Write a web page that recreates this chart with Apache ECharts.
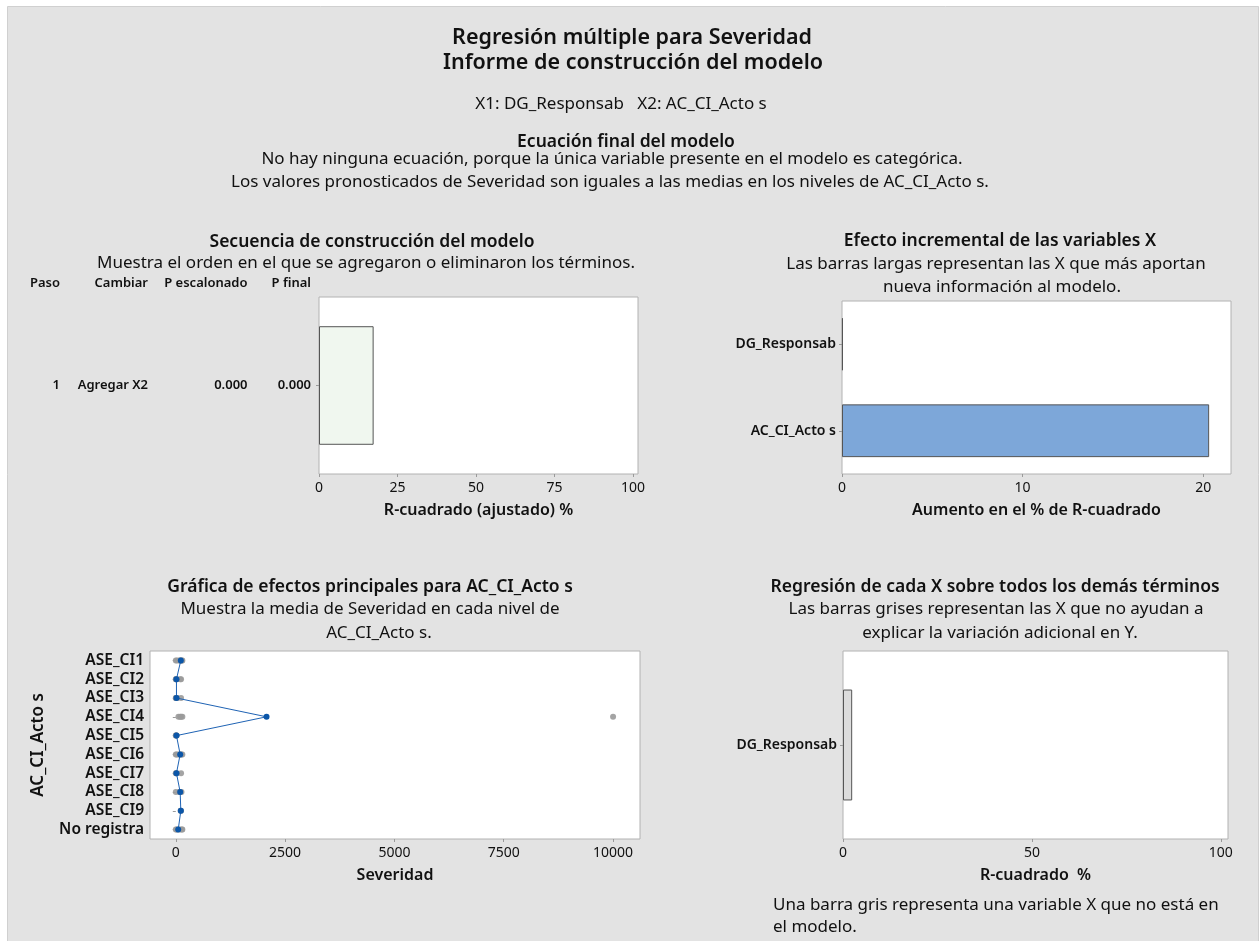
<!DOCTYPE html>
<html>
<head>
<meta charset="utf-8">
<script src="https://cdn.jsdelivr.net/npm/echarts@6/dist/echarts.min.js"></script>
<style>
html,body{margin:0;padding:0;background:#fff;}
#c{width:1260px;height:941px;}
</style>
</head>
<body>
<div id="c"></div>
<script>
// ---- Data ----
// Panel 1: model building sequence
var seqHeaders = ['Paso', 'Cambiar', 'P escalonado', 'P final'];
var seqStep = ['1'];
var seqChange = ['Agregar X2'];
var seqPStep = ['0.000'];
var seqPFinal = ['0.000'];
var seqR2Adj = [17.4];
var seqTicks = [0, 25, 50, 75, 100];

// Panel 2: incremental effect of X variables
var incCats = ['DG_Responsab', 'AC_CI_Acto s'];
var incValues = [0.05, 20.33];
var incTicks = [0, 10, 20];

// Panel 3: main effects for AC_CI_Acto s
var levels = ['ASE_CI1', 'ASE_CI2', 'ASE_CI3', 'ASE_CI4', 'ASE_CI5', 'ASE_CI6', 'ASE_CI7', 'ASE_CI8', 'ASE_CI9', 'No registra'];
var levelMeans = [115, 15, 15, 2075, 15, 100, 15, 100, 115, 55];
var obsCI1 = [0, 30, 80, 120, 150, 140, 100];
var obsCI2 = [0, 5, 10, 20, 100, 120];
var obsCI3 = [0, 5, 10, 30, 120];
var obsCI4 = [10000, 60, 100, 120, 150];
var obsCI5 = [0, 5, 10, 20];
var obsCI6 = [0, 20, 60, 100, 130, 150];
var obsCI7 = [0, 10, 20, 120];
var obsCI8 = [0, 80, 100, 130];
var obsCI9 = [110, 120];
var obsNoReg = [0, 20, 50, 100, 150, 140];
var sevTicks = [0, 2500, 5000, 7500, 10000];

// Panel 4: regression of each X on all other terms
var regCats = ['DG_Responsab'];
var regValues = [2.43];
var regTicks = [0, 50, 100];

// ---- Build ----
var FONT = '"Noto Sans", "Open Sans", sans-serif';
var obsAll = [obsCI1, obsCI2, obsCI3, obsCI4, obsCI5, obsCI6, obsCI7, obsCI8, obsCI9, obsNoReg];
var obsPoints = [];
obsAll.forEach(function (arr, i) {
  arr.forEach(function (v) { obsPoints.push([v, levels[i]]); });
});
var meanPoints = levelMeans.map(function (v, i) { return [v, levels[i]]; });

function txt(x, y, text, size, bold, align) {
  return {
    type: 'text', x: x, y: y, z: 10,
    style: {
      text: text, fill: '#111',
      font: (bold ? '600 ' : '') + size + 'px ' + FONT,
      textAlign: align || 'center', textVerticalAlign: 'middle'
    }
  };
}

var graphics = [
  { type: 'rect', z: -10, shape: { x: 7.5, y: 6.5, width: 1251, height: 940 },
    style: { fill: '#e3e3e3', stroke: '#d0d0d0', lineWidth: 1 } },
  txt(632, 38, 'Regresión múltiple para Severidad', 21.5, true),
  txt(633, 63, 'Informe de construcción del modelo', 21.5, true),
  txt(621, 104, 'X1: DG_Responsab   X2: AC_CI_Acto s', 17, false),
  txt(626, 142, 'Ecuación final del modelo', 17.5, true),
  txt(612, 159, 'No hay ninguna ecuación, porque la única variable presente en el modelo es categórica.', 17, false),
  txt(610, 182, 'Los valores pronosticados de Severidad son iguales a las medias en los niveles de AC_CI_Acto s.', 17, false),

  txt(372, 242, 'Secuencia de construcción del modelo', 17.5, true),
  txt(366, 263, 'Muestra el orden en el que se agregaron o eliminaron los términos.', 17, false),
  txt(60, 283, seqHeaders[0], 13, true, 'right'),
  txt(148, 283, seqHeaders[1], 13, true, 'right'),
  txt(247.5, 283, seqHeaders[2], 13, true, 'right'),
  txt(311, 283, seqHeaders[3], 13, true, 'right'),

  txt(1000, 241, 'Efecto incremental de las variables X', 17.5, true),
  txt(996, 264, 'Las barras largas representan las X que más aportan', 17, false),
  txt(1002, 287, 'nueva información al modelo.', 17, false),

  txt(370, 587, 'Gráfica de efectos principales para AC_CI_Acto s', 17.5, true),
  txt(370, 609, 'Muestra la media de Severidad en cada nivel de', 17, false),
  txt(379, 633, 'AC_CI_Acto s.', 17, false),

  txt(995, 587, 'Regresión de cada X sobre todos los demás términos', 17.5, true),
  txt(996, 609, 'Las barras grises representan las X que no ayudan a', 17, false),
  txt(1000, 633, 'explicar la variación adicional en Y.', 17, false),

  txt(773, 905, 'Una barra gris representa una variable X que no está en', 17, false, 'left'),
  txt(773, 927, 'el modelo.', 17, false, 'left')
];

var gridBase = { show: true, backgroundColor: '#fff', borderColor: '#b2b2b2', borderWidth: 1, containLabel: false };

function valueAxis(gi, min, max, ticks, name) {
  return {
    type: 'value', gridIndex: gi, min: min, max: max,
    axisLine: { show: false },
    axisTick: { show: true, length: 3, lineStyle: { color: '#9a9a9a' }, customValues: ticks },
    splitLine: { show: false },
    axisLabel: { color: '#111', fontSize: 14, fontFamily: FONT, margin: 7, customValues: ticks,
      formatter: function (v) { return String(v); } },
    name: name, nameLocation: 'middle', nameGap: 28,
    nameTextStyle: { color: '#111', fontSize: 16, fontWeight: 600, fontFamily: FONT }
  };
}

function catAxis(gi, data, inverse, size) {
  return {
    type: 'category', gridIndex: gi, data: data, inverse: inverse,
    axisLine: { show: false },
    axisTick: { show: true, length: 3, interval: 0, alignWithLabel: true, lineStyle: { color: '#9a9a9a' } },
    axisLabel: { interval: 0, color: '#111', fontSize: size, fontWeight: 600, fontFamily: FONT, margin: 6 }
  };
}

var richCell = function (w) {
  return { width: w, align: 'right', fontSize: 13, fontWeight: 600, color: '#111', fontFamily: FONT };
};

var yAx0 = catAxis(0, seqStep, false, 13);
yAx0.axisLabel = {
  interval: 0,
  margin: 8,
  formatter: function (v, i) {
    return '{a|' + seqStep[i] + '}{b|' + seqChange[i] + '}{c|' + seqPStep[i] + '}{d|' + seqPFinal[i] + '}';
  },
  rich: { a: richCell(30), b: richCell(88), c: richCell(99.5), d: richCell(63.5) }
};

var yAx2 = catAxis(2, levels, true, 15.5);
yAx2.name = 'AC_CI_Acto s';
yAx2.nameLocation = 'middle';
yAx2.nameGap = 103;
yAx2.nameRotate = 90;
yAx2.nameTextStyle = { color: '#111', fontSize: 17, fontWeight: 600, fontFamily: FONT };

var option = {
  animation: false,
  backgroundColor: '#fff',
  textStyle: { fontFamily: FONT },
  graphic: graphics,
  grid: [
    Object.assign({ left: 319, top: 297, width: 319, height: 177 }, gridBase),
    Object.assign({ left: 842, top: 301, width: 389, height: 173 }, gridBase),
    Object.assign({ left: 150, top: 651, width: 490, height: 188 }, gridBase),
    Object.assign({ left: 843, top: 651, width: 385, height: 188 }, gridBase)
  ],
  xAxis: [
    valueAxis(0, 0, 101.6, seqTicks, 'R-cuadrado (ajustado) %'),
    valueAxis(1, 0, 21.54, incTicks, 'Aumento en el % de R-cuadrado'),
    valueAxis(2, -590, 10616, sevTicks, 'Severidad'),
    valueAxis(3, 0, 101.9, regTicks, 'R-cuadrado  %')
  ],
  yAxis: [
    yAx0,
    catAxis(1, incCats, true, 14),
    yAx2,
    catAxis(3, regCats, false, 14)
  ],
  series: [
    {
      type: 'bar', xAxisIndex: 0, yAxisIndex: 0, data: seqR2Adj, barWidth: '67%',
      itemStyle: { color: '#f0f7ef', borderColor: '#555', borderWidth: 1 }
    },
    {
      type: 'bar', xAxisIndex: 1, yAxisIndex: 1, data: incValues, barWidth: '61%',
      itemStyle: { color: '#7da7d9', borderColor: '#555', borderWidth: 1 }
    },
    {
      type: 'scatter', xAxisIndex: 2, yAxisIndex: 2, data: obsPoints, symbolSize: 6,
      itemStyle: { color: '#9a9a9a', opacity: 0.9 }
    },
    {
      type: 'line', xAxisIndex: 2, yAxisIndex: 2, data: meanPoints, symbol: 'circle', symbolSize: 6,
      lineStyle: { color: '#1f63b4', width: 1 }, itemStyle: { color: '#0b56a8' }
    },
    {
      type: 'bar', xAxisIndex: 3, yAxisIndex: 3, data: regValues, barWidth: '59%',
      itemStyle: { color: '#dcdcdc', borderColor: '#555', borderWidth: 1 }
    }
  ]
};
var chart = echarts.init(document.getElementById('c'), null, { renderer: 'canvas' });
chart.setOption(option);
</script>
</body>
</html>
